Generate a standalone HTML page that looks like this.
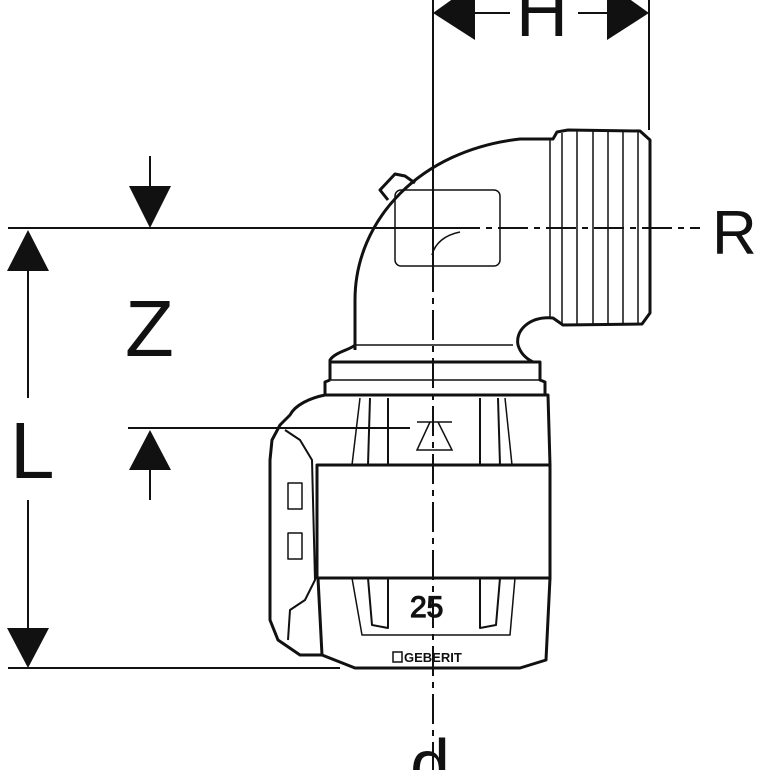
<!DOCTYPE html>
<html><head><meta charset="utf-8"><style>
html,body{margin:0;padding:0;background:#fff;width:770px;height:770px;overflow:hidden}
svg{display:block}
text{font-family:"Liberation Sans",sans-serif;fill:#111}
</style></head><body>
<svg width="770" height="770" viewBox="0 0 770 770" xmlns="http://www.w3.org/2000/svg">
<g stroke="#111" fill="none" stroke-width="2">
<!-- H dimension -->
<line x1="433" y1="0" x2="433" y2="262"/>
<line x1="649" y1="0" x2="649" y2="130"/>
<line x1="472" y1="13" x2="510" y2="13"/>
<line x1="578" y1="13" x2="610" y2="13"/>
<!-- R centerline -->
<line x1="8" y1="228" x2="450" y2="228"/>
<line x1="450" y1="228" x2="700" y2="228" stroke-dasharray="30,6,6,6"/>
<!-- vertical axis -->
<line x1="433" y1="262" x2="433" y2="770" stroke-dasharray="30,6,6,6"/>
<!-- Z dims -->
<line x1="150" y1="156" x2="150" y2="190"/>
<line x1="128" y1="428" x2="410" y2="428"/>
<line x1="150" y1="465" x2="150" y2="500"/>
<!-- L dims -->
<line x1="28" y1="265" x2="28" y2="398"/>
<line x1="28" y1="500" x2="28" y2="630"/>
<line x1="8" y1="668" x2="340" y2="668"/>
</g>
<g fill="#111">
<polygon points="433,13 475,-17 475,40"/>
<polygon points="649,13 607,-17 607,40"/>
<polygon points="150,228 129,186 171,186"/>
<polygon points="28,230 7,271 49,271"/>
<polygon points="150,430 129,470 171,470"/>
<polygon points="28,668 7,628 49,628"/>
</g>
<text x="516" y="36" font-size="72">H</text>
<text x="712" y="254" font-size="62">R</text>
<text x="125" y="356" font-size="80">Z</text>
<text x="10" y="478" font-size="80">L</text>
<text x="410" y="790" font-size="72">d</text>

<!-- fitting -->
<g stroke="#111" fill="none" stroke-width="3" stroke-linejoin="round">
<path d="M355,350 L355,300 C355,220 420,150 520,139 L553,139 L557,132 L568,130 L640,131 L650,140 L650,313 L642,324 L563,325 L553,318 C530,316 515,330 518,345 C520,352 525,358 533,362"/>
<path d="M355,345 C350,350 335,352 330,360 L330,380"/>
<path d="M388,200 L380,190 L395,174 L405,176 L415,183" />
<path d="M330,362 L540,362 L540,380 L545,382 L545,395 L325,395 L325,382 L330,380"/>
<line x1="355" y1="345" x2="513" y2="345" stroke-width="1.5"/>
<line x1="330" y1="380" x2="540" y2="380" stroke-width="1.5"/>
<path d="M325,395 L548,395 L550,465 L550,578 L546,660 L520,668 L355,668 L322,655 L318,578"/>
<path d="M325,395 C310,398 295,405 290,415 L280,425 L272,440 L270,460 L270,620 L278,640 L300,655 L322,655"/>
<rect x="317" y="465" width="233" height="113" stroke-width="3"/>
<path d="M285,430 L300,440 L312,460 L315,580 L305,600 L290,610 L288,640" stroke-width="2"/>
<rect x="288" y="483" width="14" height="26" stroke-width="1.5"/>
<rect x="288" y="533" width="14" height="26" stroke-width="1.5"/>
<path d="M370,398 L368,465 M388,398 L388,465 M480,398 L480,465 M498,398 L500,465" stroke-width="2"/>
<path d="M360,398 L352,465 M505,398 L512,465" stroke-width="1.5"/>
<path d="M368,578 L372,625 L388,628 L388,578 M480,578 L480,628 L496,625 L500,578" stroke-width="2"/>
<path d="M352,578 L362,635 L510,635 L515,578" stroke-width="1.5"/>
</g>
<g stroke="#111" fill="none" stroke-width="1.5">
<line x1="550" y1="140" x2="550" y2="318"/>
<line x1="562" y1="133" x2="562" y2="323"/>
<line x1="577" y1="131" x2="577" y2="324"/>
<line x1="593" y1="131" x2="593" y2="324"/>
<line x1="608" y1="131" x2="608" y2="324"/>
<line x1="623" y1="131" x2="623" y2="324"/>
<line x1="638" y1="132" x2="638" y2="323"/>
<rect x="395" y="190" width="105" height="76" rx="6"/>
<path d="M460,232 C445,235 435,243 432,255"/>
<path d="M417,422 L452,422 M430,422 L417,450 L452,450 L438,422" />
</g>
<text x="410" y="617" font-size="30" fill="#fff" stroke="#111" stroke-width="1.2">25</text>
<rect x="393" y="652" width="9" height="10" fill="none" stroke="#111" stroke-width="1.5"/>
<text x="404" y="662" font-size="13" font-weight="bold">GEBERIT</text>
</svg>
</body></html>
